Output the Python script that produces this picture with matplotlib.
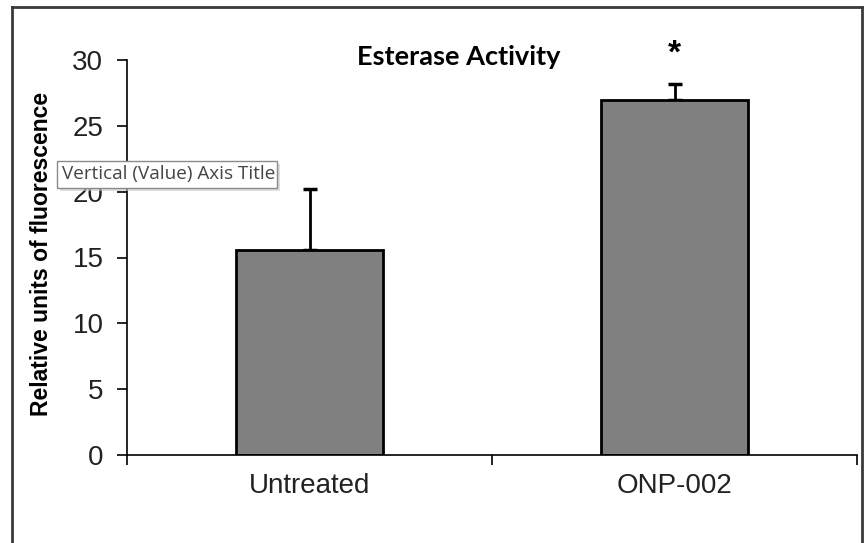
import matplotlib
matplotlib.use("Agg")
import matplotlib.pyplot as plt
from matplotlib.lines import Line2D
from matplotlib.patches import Rectangle

categories = ["Untreated", "ONP-002"]
means = [15.55, 26.95]
errors = [4.65, 1.2]
yticks = [0, 5, 10, 15, 20, 25, 30]
title = "Esterase Activity"
ylabel = "Relative units of fluorescence"
significance = ["", "*"]
tooltip = "Vertical (Value) Axis Title"

W, H = 868, 543
fig = plt.figure(figsize=(W / 100, H / 100), dpi=100)
fig.patch.set_facecolor("white")

ax = fig.add_axes([127 / W, 1 - 455 / H, (857 - 127) / W, (455 - 60) / H])
x = list(range(len(categories)))
ax.bar(x, means, width=0.405, color="#808080", edgecolor="black", linewidth=2, zorder=2)
ax.errorbar(x, means, yerr=[[0] * len(errors), errors], fmt="none", ecolor="black",
            elinewidth=2, capsize=5, capthick=2.5, zorder=1)
for xi, m, e, s in zip(x, means, errors, significance):
    if s:
        ax.text(xi, m + e + 2.3, s, ha="center", va="center", fontsize=24,
                fontweight="bold", family="Liberation Sans", clip_on=False)

ax.set_xlim(-0.5, len(categories) - 0.5)
ax.set_ylim(0, 30)
ax.set_yticks(yticks)
ax.set_yticklabels([str(t) for t in yticks], fontsize=20, family="Liberation Sans",
                   color="#222222")
ax.set_xticks(x)
ax.set_xticklabels(categories, fontsize=20, family="Liberation Sans", color="#222222")
ax.tick_params(axis="x", length=0, pad=13)
ax.tick_params(axis="y", length=7, width=1.2, direction="out", pad=10)
# minor x ticks at category boundaries
ax.set_xticks([-0.5, 0.5, 1.5], minor=True)
ax.tick_params(axis="x", which="minor", length=7, width=1.2, direction="out")
for sp in ["top", "right"]:
    ax.spines[sp].set_visible(False)
for sp in ["left", "bottom"]:
    ax.spines[sp].set_linewidth(1.2)
ax.set_ylabel(ylabel, fontsize=16.5, fontweight="bold", family="Liberation Sans")
ax.yaxis.set_label_coords(-0.102, 0.51)
ax.text(0.455, 1.008, title, transform=ax.transAxes, ha="center", va="center",
        fontsize=19.5, fontweight="bold", family="Lato")

# outer chart frame
lw = 2
col = "#3a3a3a"
fig.add_artist(Line2D([12 / W, 12 / W], [0, 1 - 7 / H], color=col, lw=lw))
fig.add_artist(Line2D([12 / W, 862 / W], [1 - 7 / H, 1 - 7 / H], color=col, lw=lw))
fig.add_artist(Line2D([862 / W, 862 / W], [0, 1 - 7 / H], color=col, lw=lw))

# tooltip
fig.add_artist(Rectangle((60 / W, 1 - 191 / H), 220 / W, 27 / H, facecolor="#c8c8c8",
                         edgecolor="none", alpha=0.6, zorder=9))
fig.add_artist(Rectangle((57 / W, 1 - 188 / H), 220 / W, 27 / H, facecolor="white",
                         edgecolor="#8a8a8a", lw=1, zorder=10))
fig.text(62 / W, 1 - 174.5 / H, tooltip, ha="left", va="center", fontsize=13.6,
         family="Open Sans", color="#444444", zorder=11)

fig.savefig("out.png", dpi=100)
